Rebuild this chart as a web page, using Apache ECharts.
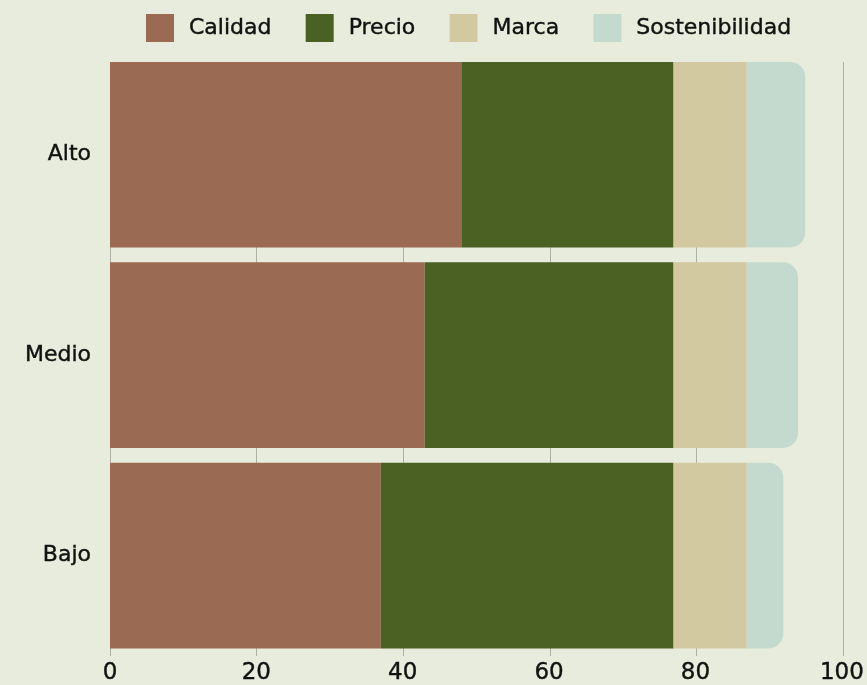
<!DOCTYPE html>
<html>
<head>
<meta charset="utf-8">
<style>
  html, body { margin: 0; padding: 0; background: #E8ECDC; overflow: hidden; }
  #chart { width: 867px; height: 685px; }
</style>
<script src="https://cdn.jsdelivr.net/npm/echarts@6/dist/echarts.min.js"></script>
</head>
<body>
<div id="chart"></div>
<script>
// Purchase-decision drivers by income level (percent of respondents)
const categories = ['Alto', 'Medio', 'Bajo'];
const seriesNames = ['Calidad', 'Precio', 'Marca', 'Sostenibilidad'];
const calidad = [48, 43, 37];
const precio = [29, 34, 40];
const marca = [10, 10, 10];
const sostenibilidad = [8, 7, 5];
const xTicks = [0, 20, 40, 60, 80, 100];

const colors = ['#9A6A52', '#4B6124', '#D3C9A1', '#C4DACE'];
const values = [calidad, precio, marca, sostenibilidad];
const FONT = '"DejaVu Sans", sans-serif';
const TEXT = '#111';
// a hairline outline in the text colour gives the labels a medium weight
const medium = { textBorderColor: TEXT, textBorderWidth: 0.4 };

const chart = echarts.init(document.getElementById('chart'), null, { width: 867, height: 685 });
chart.setOption({
  backgroundColor: '#E8ECDC',
  color: colors,
  animation: false,
  legend: {
    top: 9,
    left: 141,
    itemWidth: 28,
    itemHeight: 28,
    itemGap: 34,
    icon: 'rect',
    textStyle: Object.assign({ fontFamily: FONT, fontSize: 22, color: TEXT, padding: [0, 0, 0, 10] }, medium),
    data: seriesNames
  },
  // grid 0 holds the bars; grid 1 only carries the vertical guide lines,
  // which stop at the outer edges of the first and last bar
  grid: [
    { left: 110, right: 24, top: 54.5, bottom: 17 },
    { left: 110, right: 24, top: 62, bottom: 29 }
  ],
  xAxis: [
    {
      type: 'value',
      gridIndex: 0,
      min: xTicks[0],
      max: xTicks[xTicks.length - 1],
      interval: 20,
      axisLine: { show: false },
      axisTick: { show: false },
      splitLine: { show: false },
      axisLabel: Object.assign({ fontFamily: FONT, fontSize: 23, color: TEXT, margin: 6 }, medium)
    },
    {
      type: 'value',
      gridIndex: 1,
      min: xTicks[0],
      max: xTicks[xTicks.length - 1],
      interval: 20,
      axisLine: { show: false },
      axisTick: { show: false },
      axisLabel: { show: false },
      splitLine: { show: true, lineStyle: { color: '#AEB0A4', width: 1 } }
    }
  ],
  yAxis: [
    {
      type: 'category',
      gridIndex: 0,
      inverse: true,
      data: categories,
      axisLine: { show: false },
      axisTick: { show: false },
      axisLabel: Object.assign({ fontFamily: FONT, fontSize: 22, color: TEXT, margin: 19 }, medium)
    },
    {
      type: 'category',
      gridIndex: 1,
      data: categories,
      show: false
    }
  ],
  series: seriesNames.map((name, i) => ({
    name,
    type: 'bar',
    stack: 'total',
    xAxisIndex: 0,
    yAxisIndex: 0,
    barCategoryGap: '7.4%',
    data: values[i],
    itemStyle: {
      color: colors[i],
      borderRadius: i === seriesNames.length - 1 ? [0, 15, 15, 0] : 0
    }
  }))
});
</script>
</body>
</html>
